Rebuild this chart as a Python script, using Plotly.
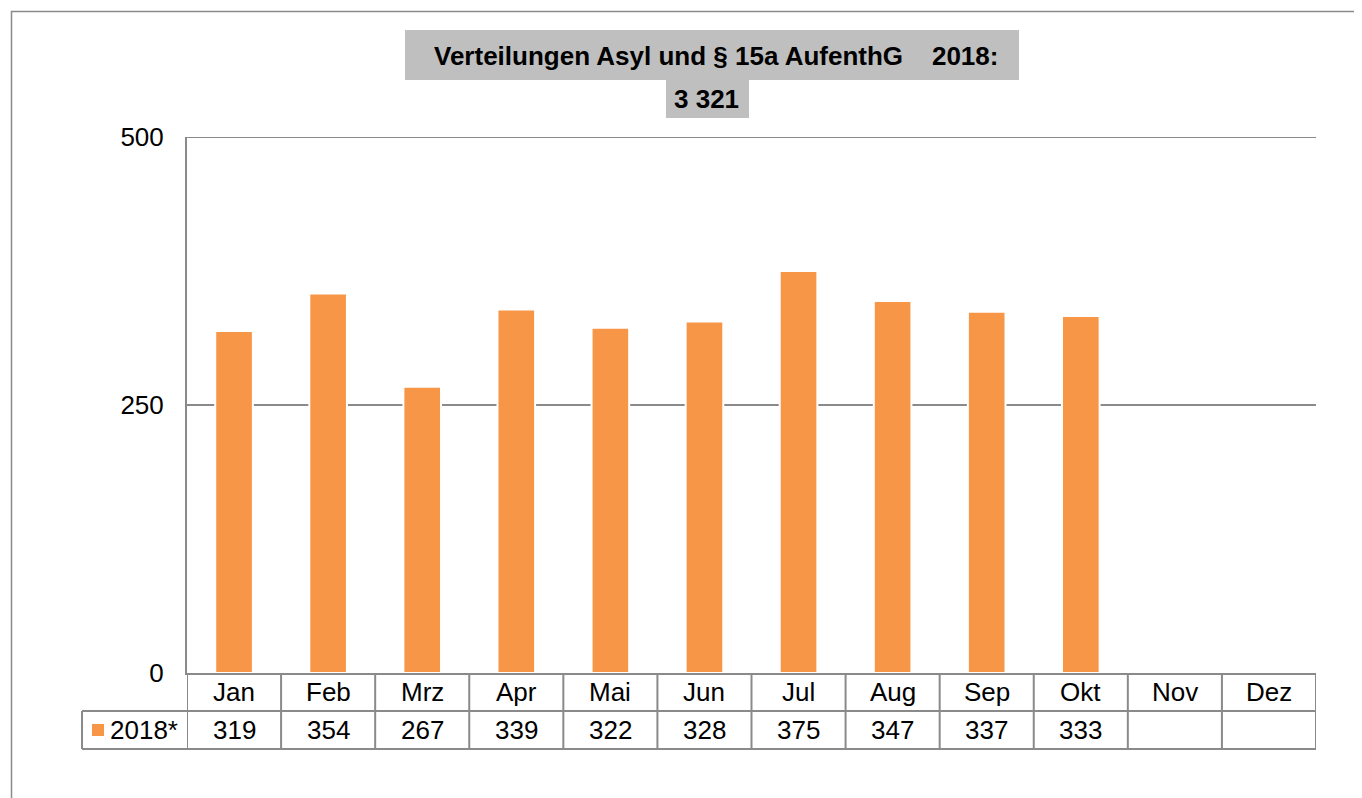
import plotly.graph_objects as go

months = ["Jan", "Feb", "Mrz", "Apr", "Mai", "Jun", "Jul", "Aug", "Sep", "Okt", "Nov", "Dez"]
values = [319, 354, 267, 339, 322, 328, 375, 347, 337, 333, None, None]
series_name = "2018*"
title_line1 = "Verteilungen Asyl und § 15a AufenthG\u00a0\u00a0\u00a0 2018:"
title_line2 = "3 321"
y_ticks = [0, 250, 500]

OFF = 8  # page body margin
W, H = 1362 - OFF, 798 - OFF
# plot area in page pixels
L, R, T, B = 187, 1316, 137, 673
PW, PH = R - L, B - T

def px_x(px):
    return (px - L) / PW

def px_y(py):
    return (B - py) / PH

FONT = "Liberation Sans, Arial, sans-serif"
GRAY = "#8a8a8a"
ORANGE = "#F79646"
FS = 26
LW = 2

fig = go.Figure()
fig.add_trace(go.Bar(
    x=months, y=values, name=series_name,
    marker=dict(color=ORANGE, line=dict(color="white", width=2)),
    width=0.4, showlegend=False,
))

shapes = []
# outer chart border
shapes.append(dict(type="rect", xref="paper", yref="paper",
                   x0=px_x(11.5), x1=px_x(1400), y0=px_y(11.5), y1=px_y(820),
                   line=dict(color=GRAY, width=1.5), fillcolor="rgba(0,0,0,0)", layer="below"))
# top gridline
shapes.append(dict(type="line", xref="paper", yref="y", x0=0, x1=1,
                   y0=y_ticks[-1], y1=y_ticks[-1], line=dict(color=GRAY, width=LW), layer="below"))
# title boxes
shapes.append(dict(type="rect", xref="paper", yref="paper",
                   x0=px_x(405), x1=px_x(1019), y0=px_y(30), y1=px_y(80),
                   line=dict(width=0), fillcolor="#BFBFBF"))
shapes.append(dict(type="rect", xref="paper", yref="paper",
                   x0=px_x(666), x1=px_x(749), y0=px_y(80), y1=px_y(118),
                   line=dict(width=0), fillcolor="#BFBFBF"))
# table horizontal lines
for py in (711, 749):
    shapes.append(dict(type="line", xref="paper", yref="paper",
                       x0=px_x(82), x1=1, y0=px_y(py), y1=px_y(py),
                       line=dict(color=GRAY, width=LW)))
# table vertical lines (category boundaries)
for i in range(len(months) + 1):
    shapes.append(dict(type="line", xref="x", yref="paper",
                       x0=i - 0.5, x1=i - 0.5, y0=0, y1=px_y(749),
                       line=dict(color=GRAY, width=LW)))
# legend cell left edge
shapes.append(dict(type="line", xref="paper", yref="paper",
                   x0=px_x(82), x1=px_x(82), y0=px_y(711), y1=px_y(749),
                   line=dict(color=GRAY, width=LW)))
# legend key square
shapes.append(dict(type="rect", xref="paper", yref="paper",
                   x0=px_x(92), x1=px_x(104), y0=px_y(724), y1=px_y(736),
                   line=dict(width=0), fillcolor=ORANGE))

annotations = []
annotations.append(dict(text="<b>" + title_line1 + "</b>", xref="paper", yref="paper",
                        x=px_x(716), y=px_y(56), xanchor="center", yanchor="middle",
                        showarrow=False, font=dict(family=FONT, size=26, color="black")))
annotations.append(dict(text="<b>" + title_line2 + "</b>", xref="paper", yref="paper",
                        x=px_x(706), y=px_y(99), xanchor="center", yanchor="middle",
                        showarrow=False, font=dict(family=FONT, size=26, color="black")))
for m, v in zip(months, values):
    annotations.append(dict(text=m, xref="x", yref="paper", x=m, y=px_y(692),
                            xanchor="center", yanchor="middle", showarrow=False,
                            font=dict(family=FONT, size=FS, color="black")))
    if v is not None:
        annotations.append(dict(text=str(v), xref="x", yref="paper", x=m, y=px_y(730),
                                xanchor="center", yanchor="middle", showarrow=False,
                                font=dict(family=FONT, size=FS, color="black")))
annotations.append(dict(text=series_name, xref="paper", yref="paper", x=px_x(108), y=px_y(730),
                        xanchor="left", yanchor="middle", showarrow=False,
                        font=dict(family=FONT, size=FS, color="black")))

fig.update_layout(
    width=W, height=H,
    margin=dict(l=L - OFF, r=(W + OFF) - R, t=T - OFF, b=(H + OFF) - B, pad=0),
    paper_bgcolor="white", plot_bgcolor="white",
    shapes=shapes, annotations=annotations,
    xaxis=dict(type="category", range=[-0.5, len(months) - 0.5], showticklabels=False,
               showgrid=False, showline=True, linecolor=GRAY, linewidth=LW,
               ticks="", zeroline=False, fixedrange=True),
    yaxis=dict(range=[0, 500], tickvals=y_ticks, showgrid=True, gridcolor=GRAY, gridwidth=LW,
               showline=True, linecolor=GRAY, linewidth=LW, zeroline=False, ticks="",
               ticklabelstandoff=16,
               tickfont=dict(family=FONT, size=FS, color="black"), fixedrange=True),
    font=dict(family=FONT),
)

fig.write_html("out.html")
